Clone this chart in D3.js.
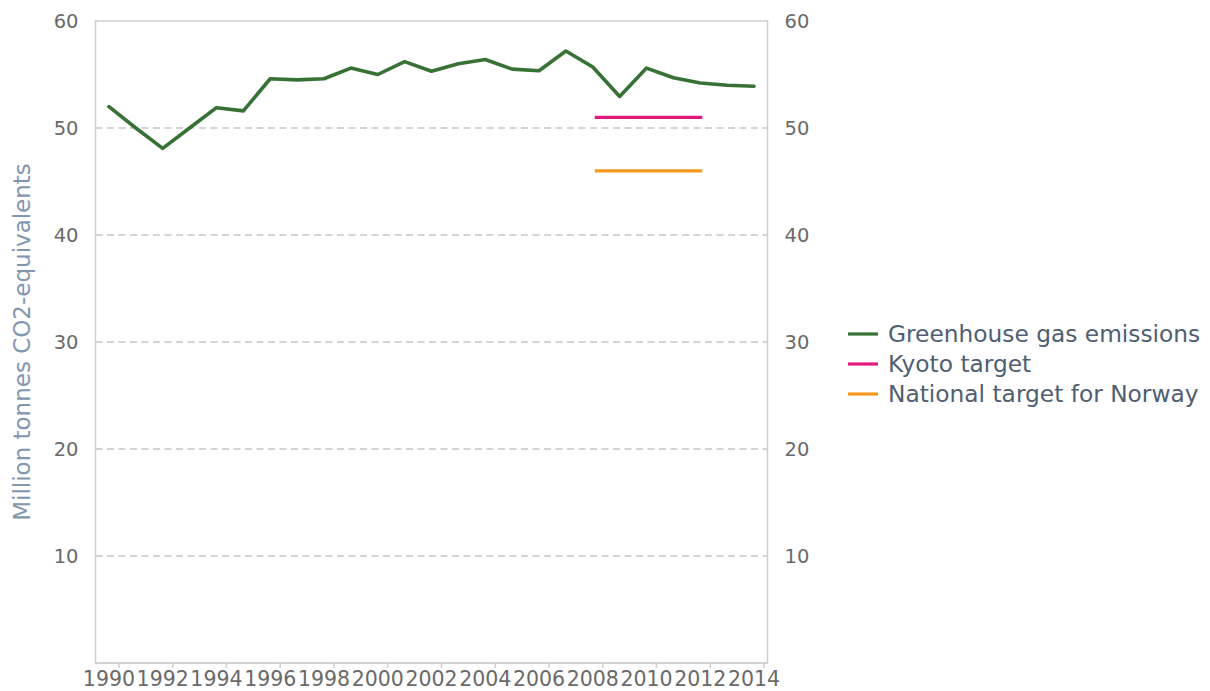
<!DOCTYPE html>
<html>
<head>
<meta charset="utf-8">
<script src="https://cdn.jsdelivr.net/npm/d3@7/dist/d3.min.js"></script>
<style>
  html, body { margin: 0; padding: 0; background: #ffffff; }
  svg { display: block; font-family: "DejaVu Sans", Verdana, sans-serif; }
</style>
</head>
<body>
<svg id="chart" width="1210" height="691"></svg>
<script>
// Norway greenhouse gas emissions, million tonnes CO2-equivalents
const years = [1990, 1991, 1992, 1993, 1994, 1995, 1996, 1997, 1998, 1999, 2000, 2001, 2002,
               2003, 2004, 2005, 2006, 2007, 2008, 2009, 2010, 2011, 2012, 2013, 2014];
const emissions = [52.0, 50.0, 48.1, 50.0, 51.9, 51.6, 54.6, 54.5, 54.6, 55.6, 55.0, 56.2, 55.3,
                   56.0, 56.4, 55.5, 55.35, 57.2, 55.7, 52.95, 55.6, 54.7, 54.2, 54.0, 53.9];
// Commitment period 2008-2012
const targetYears = [2008, 2012];
const kyotoTarget = 51.0;
const nationalTarget = 46.0;

const yTicks = [10, 20, 30, 40, 50, 60];
const xTickYears = [1990, 1992, 1994, 1996, 1998, 2000, 2002, 2004, 2006, 2008, 2010, 2012, 2014];

const seriesNames = ["Greenhouse gas emissions", "Kyoto target", "National target for Norway"];
const seriesColors = ["#377135", "#e0197d", "#f39a1e"];

const svg = d3.select("#chart");
const plot = { left: 95.5, right: 767.5, top: 21, bottom: 663 };

const x = d3.scaleLinear()
  .domain([years[0] - 0.5, years[years.length - 1] + 0.5])
  .range([plot.left, plot.right]);
const y = d3.scaleLinear().domain([0, 60]).range([plot.bottom, plot.top]);

// dashed gridlines
svg.append("g")
  .selectAll("line")
  .data(yTicks.filter(d => d < 60))
  .join("line")
  .attr("x1", plot.left).attr("x2", plot.right)
  .attr("y1", d => y(d)).attr("y2", d => y(d))
  .attr("stroke", "#c6c6c6")
  .attr("stroke-width", 1.4)
  .attr("stroke-dasharray", "7,4.5");

// plot frame
svg.append("rect")
  .attr("x", plot.left).attr("y", plot.top)
  .attr("width", plot.right - plot.left).attr("height", plot.bottom - plot.top)
  .attr("fill", "none")
  .attr("stroke", "#cfcfcf")
  .attr("stroke-width", 1.5);

// left and right value axes
const tickColor = "#6a6a6a";
svg.append("g")
  .attr("transform", `translate(${plot.left - 17},0)`)
  .call(d3.axisLeft(y).tickValues(yTicks).tickSize(0).tickPadding(0))
  .call(g => g.select(".domain").remove())
  .call(g => g.selectAll("text")
    .attr("fill", tickColor)
    .style("font-size", "19.5px")
    .style("font-family", "'DejaVu Sans', Verdana, sans-serif"));

svg.append("g")
  .attr("transform", `translate(${plot.right + 17},0)`)
  .call(d3.axisRight(y).tickValues(yTicks).tickSize(0).tickPadding(0))
  .call(g => g.select(".domain").remove())
  .call(g => g.selectAll("text")
    .attr("fill", tickColor)
    .style("font-size", "19.5px")
    .style("font-family", "'DejaVu Sans', Verdana, sans-serif"));

// year axis: tick marks sit just right of each labelled year
const xAxis = svg.append("g").attr("transform", `translate(0,${plot.bottom})`);
xAxis.append("line")
  .attr("x1", plot.left).attr("x2", plot.right)
  .attr("stroke", "#cfcfcf").attr("stroke-width", 1.5);
xAxis.selectAll("line.tick")
  .data(xTickYears)
  .join("line")
  .attr("class", "tick")
  .attr("x1", d => Math.min(x(d + 0.37), plot.right))
  .attr("x2", d => Math.min(x(d + 0.37), plot.right))
  .attr("y1", 0).attr("y2", 5)
  .attr("stroke", "#cfcfcf").attr("stroke-width", 1.5);
xAxis.selectAll("text")
  .data(xTickYears)
  .join("text")
  .attr("x", d => x(d))
  .attr("y", 23)
  .attr("text-anchor", "middle")
  .attr("fill", tickColor)
  .style("font-size", "20.5px")
  .text(d => d);

// y title
svg.append("text")
  .attr("transform", `translate(30,${(plot.top + plot.bottom) / 2}) rotate(-90)`)
  .attr("text-anchor", "middle")
  .attr("fill", "#8296b0")
  .style("font-size", "23px")
  .text("Million tonnes CO2-equivalents");

// target lines
const targets = [kyotoTarget, nationalTarget];
svg.append("g")
  .selectAll("line")
  .data(targets)
  .join("line")
  .attr("x1", x(targetYears[0]) + 2)
  .attr("x2", x(targetYears[1]) + 2)
  .attr("y1", d => y(d)).attr("y2", d => y(d))
  .attr("stroke", (d, i) => seriesColors[i + 1])
  .attr("stroke-width", 3.2);

// emissions line
const line = d3.line()
  .x((d, i) => x(years[i]))
  .y(d => y(d));
svg.append("path")
  .datum(emissions)
  .attr("d", line)
  .attr("fill", "none")
  .attr("stroke", seriesColors[0])
  .attr("stroke-width", 3.6)
  .attr("stroke-linejoin", "round")
  .attr("stroke-linecap", "round");

// legend
const legend = svg.append("g").attr("transform", "translate(848,334)");
const item = legend.selectAll("g")
  .data(seriesNames)
  .join("g")
  .attr("transform", (d, i) => `translate(0,${i * 30})`);
item.append("line")
  .attr("x1", 0).attr("x2", 30)
  .attr("stroke", (d, i) => seriesColors[i])
  .attr("stroke-width", 3.2);
item.append("text")
  .attr("x", 40)
  .attr("y", 8)
  .attr("fill", "#4f5e72")
  .style("font-size", "23.3px")
  .text(d => d);
</script>
</body>
</html>
